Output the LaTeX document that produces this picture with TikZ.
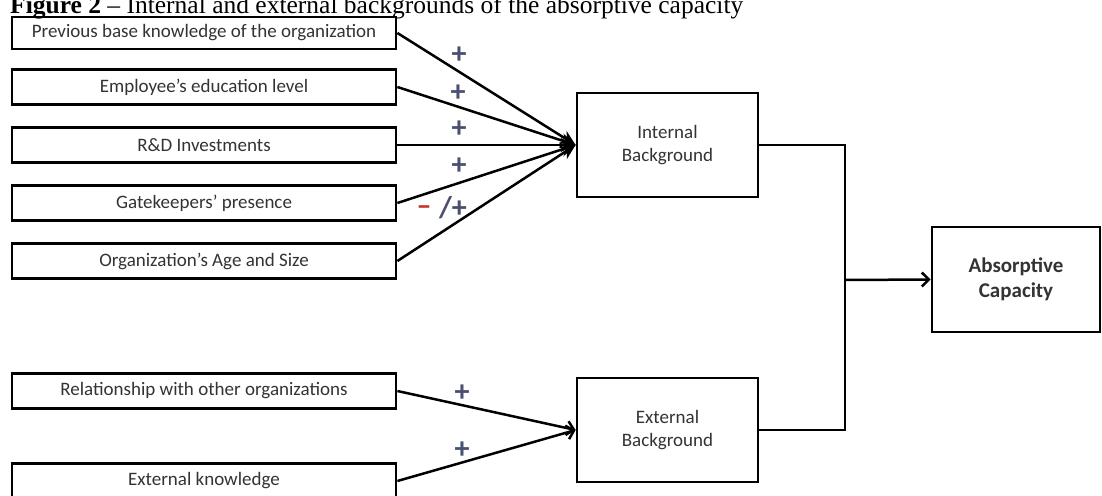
\documentclass[tikz,border=0pt]{standalone}
\usepackage{fontspec}
\setmainfont{Liberation Serif}
\newfontfamily\boxfont{Carlito}
\usetikzlibrary{arrows.meta}
\definecolor{txtgray}{HTML}{333333}
\definecolor{signblue}{HTML}{4A5070}
\definecolor{signred}{HTML}{C8362E}
\begin{document}
\begin{tikzpicture}[x=1pt,y=-1pt,
  inbox/.style={draw, line width=2.8pt, minimum width=384pt, minimum height=35pt, inner sep=0pt,
    font=\boxfont\fontsize{19}{22}\selectfont, text=txtgray},
  midbox/.style={draw, line width=2.8pt, minimum width=181pt, minimum height=104pt, inner sep=0pt, align=center,
    font=\boxfont\fontsize{19}{23}\selectfont, text=txtgray},
  absbox/.style={draw, line width=2.8pt, minimum width=168pt, minimum height=105pt, inner sep=0pt, align=center,
    font=\boxfont\bfseries\fontsize{21}{25}\selectfont, text=txtgray},
  conn/.style={line width=2.5pt},
  fillarr/.style={conn, -{Stealth[length=15pt,width=14pt]}},
  openarr/.style={conn, -{Straight Barb[length=7pt,width=14pt]}},
  sign/.style={font=\boxfont\bfseries\fontsize{30}{30}\selectfont, text=signblue, inner sep=0pt}
]
\useasboundingbox (0,0) rectangle (1102,495);
\clip (0,0) rectangle (1102,495);
\fill[white] (0,0) rectangle (1102,495);

\node[anchor=base west, font=\fontsize{25.5}{26}\selectfont, inner sep=0pt] (title) at (10,14)
  {\textbf{Figure 2} – Internal and external backgrounds of the absorptive capacity};

\node[inbox, minimum height=32pt] (b1) at (204,33) {Previous base knowledge of the organization};
\node[inbox] (b2) at (204,87) {Employee’s education level};
\node[inbox] (b3) at (204,145) {R\&D Investments};
\node[inbox] (b4) at (204,203) {Gatekeepers’ presence};
\node[inbox] (b5) at (204,261) {Organization’s Age and Size};
\node[inbox] (b6) at (204,391) {Relationship with other organizations};
\node[inbox] (b7) at (204,481) {External knowledge};

\node[midbox] (int) at (667.5,145) {Internal\\Background};
\node[midbox] (ext) at (667.5,430) {External\\Background};
\node[absbox] (abs) at (1016,279.5) {Absorptive\\Capacity};

\coordinate (bus) at (845,280);

\draw[fillarr] (b1.east) -- (int.west);
\draw[fillarr] (b2.east) -- (int.west);
\draw[fillarr] (b3.east) -- (int.west);
\draw[fillarr] (b4.east) -- (int.west);
\draw[fillarr] (b5.east) -- (int.west);
\draw[openarr] (b6.east) -- (ext.west);
\draw[openarr] (b7.east) -- (ext.west);

\draw[conn] (int.east) -| (bus) |- (ext.east);
\draw[openarr] (bus) -- (abs.west);

\node[sign] (s1) at (459,55) {+};
\node[sign] (s2) at (458,93) {+};
\node[sign] (s3) at (459,129) {+};
\node[sign] (s4) at (459,166) {+};
\node[sign, text=signred] (s5m) at (424,211) {–};
\node[sign] (s5p) at (453,208) {/+};
\node[sign] (s6) at (462,393) {+};
\node[sign] (s7) at (462,450) {+};
\end{tikzpicture}
\end{document}
